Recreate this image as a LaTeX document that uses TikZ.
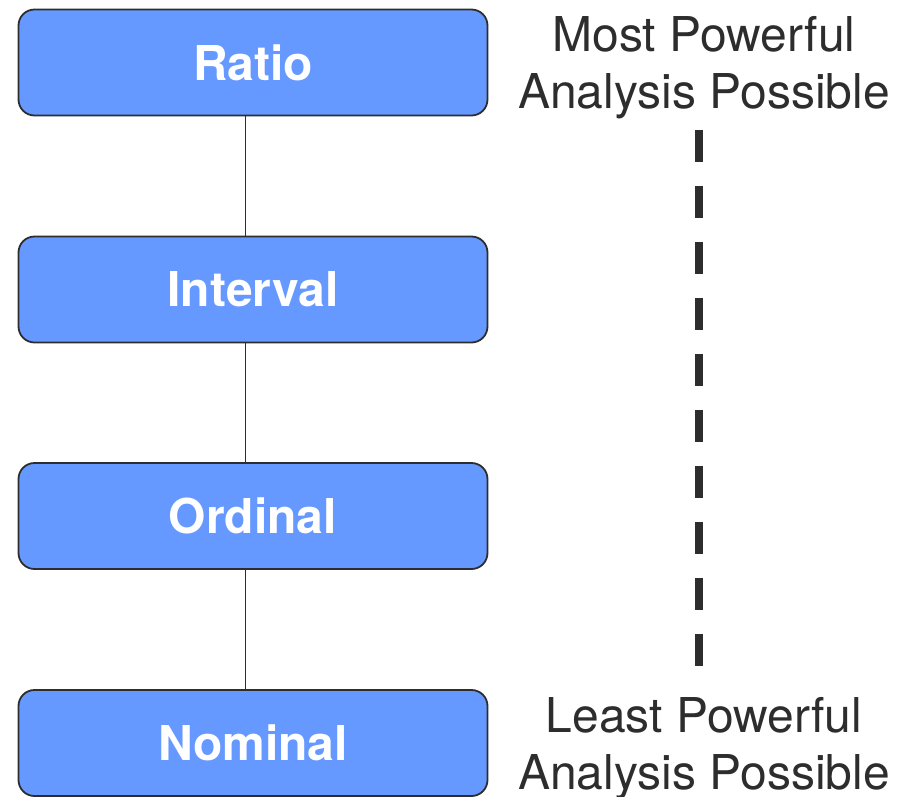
\documentclass[tikz,border=0pt]{standalone}
\usepackage{fontspec}
\setmainfont{TeX Gyre Heros}
\definecolor{boxfill}{RGB}{102,153,255}
\definecolor{inkgray}{RGB}{45,45,45}
\begin{document}
\begin{tikzpicture}[x=1pt,y=-1pt,
  levelbox/.style={rectangle, rounded corners=16pt, draw=inkgray, line width=1.8pt,
    fill=boxfill, minimum width=469pt, minimum height=106pt, inner sep=0pt,
    text=white, font=\fontsize{48}{57}\selectfont\bfseries},
  linkline/.style={draw=inkgray, line width=1.6pt},
  sidelabel/.style={align=center, inner sep=0pt, text=inkgray,
    font=\fontsize{48}{57}\selectfont},
  scaleline/.style={draw=inkgray, line width=8pt, dash pattern=on 32pt off 24pt}]
\useasboundingbox (0,0) rectangle (911,796);

% measurement levels
\node[levelbox] (ratio)    at (253,62.5)  {Ratio};
\node[levelbox] (interval) at (253,289.5) {Interval};
\node[levelbox] (ordinal)  at (253,516)   {Ordinal};
\node[levelbox] (nominal)  at (253,743)   {Nominal};

% links between levels
\draw[linkline] ([xshift=-7.5pt]ratio.south)    -- ([xshift=-7.5pt]interval.north);
\draw[linkline] ([xshift=-7.5pt]interval.south) -- ([xshift=-7.5pt]ordinal.north);
\draw[linkline] ([xshift=-7.5pt]ordinal.south)  -- ([xshift=-7.5pt]nominal.north);

% power scale on the right
\node[sidelabel] (most)  at (704,67.5)  {Most Powerful\\Analysis Possible};
\node[sidelabel] (least) at (704,749)   {Least Powerful\\Analysis Possible};
\coordinate (scaletop) at (699,130);
\coordinate (scalebot) at (699,666);
\draw[scaleline] (scaletop) -- (scalebot);
\end{tikzpicture}
\end{document}
